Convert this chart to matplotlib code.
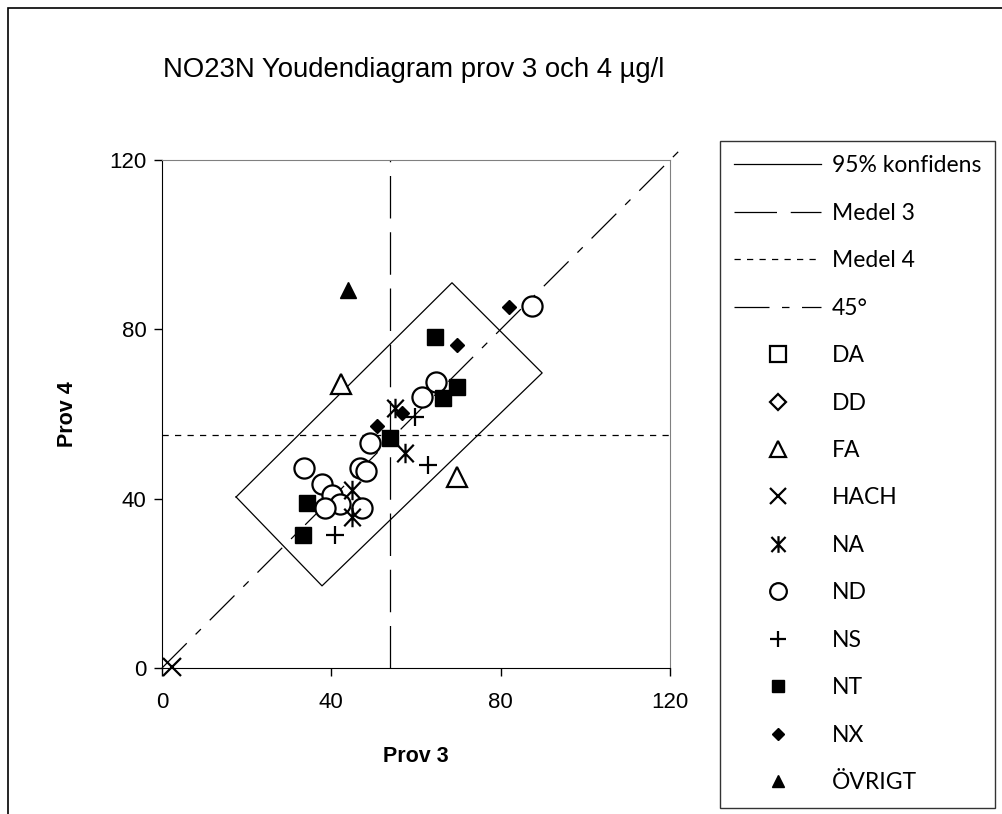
# -*- coding: utf-8 -*-
import matplotlib
matplotlib.use("Agg")
import matplotlib.pyplot as plt
from matplotlib.lines import Line2D
from matplotlib.path import Path
from matplotlib.patches import Rectangle

# medelvärden och 45-graderslinje
medel3 = 53.9
medel4 = 55.0
diag_x = [0, 123]
diag_y = [0, 123]

# 95% konfidensrektangel (hörn)
konf_x = [17.5, 68.5, 89.8, 37.8, 17.5]
konf_y = [40.4, 91.0, 69.7, 19.4, 40.4]

# resultat per metod
FA_x = [42.3, 69.7]
FA_y = [67.1, 45.1]
HACH_x = [2.4]
HACH_y = [0.2]
ND_x = [33.5, 37.8, 40.2, 42.1, 38.5, 47.2, 46.8, 48.2, 49.1, 61.4, 64.7, 87.4]
ND_y = [47.2, 43.5, 40.9, 38.7, 37.8, 37.8, 47.2, 46.5, 53.2, 64.0, 67.6, 85.5]
NA_x = [44.9, 44.9, 57.4, 55.0]
NA_y = [42.0, 35.7, 50.8, 61.5]
NS_x = [40.9, 62.8, 59.8]
NS_y = [31.4, 48.0, 59.3]
NT_x = [33.3, 34.3, 53.9, 66.4, 69.7, 64.5]
NT_y = [31.4, 39.0, 54.3, 63.8, 66.4, 78.2]
NX_x = [50.8, 56.7, 69.7, 82.0]
NX_y = [57.2, 60.2, 76.3, 85.3]
OVR_x = [43.9]
OVR_y = [89.3]

ticks = [0, 40, 80, 120]

asterisk = Path([(0, -1), (0, 1), (-0.85, -0.9), (0.85, 0.9), (-0.85, 0.9), (0.85, -0.9)],
                [Path.MOVETO, Path.LINETO] * 3)

plt.rcParams['font.family'] = ['Liberation Sans', 'DejaVu Sans']

fig = plt.figure(figsize=(10.03, 8.14), dpi=100)
ax = fig.add_axes([162 / 1003, 1 - 668 / 814, 508 / 1003, 508 / 814])

lw = 0.9
ax.plot(konf_x, konf_y, color='black', lw=lw)
ax.plot([medel3, medel3], [0, 120], color='black', lw=lw, dashes=(34, 11))
ax.plot([0, 120], [medel4, medel4], color='black', lw=lw, dashes=(5, 5))
ax.plot(diag_x, diag_y, color='black', lw=lw, dashes=(28, 10, 6, 10), clip_on=False)

ax.plot(FA_x, FA_y, ls='none', marker='^', ms=15, mfc='white', mec='black', mew=1.6, clip_on=False)
ax.plot(HACH_x, HACH_y, ls='none', marker='x', ms=13, mec='black', mew=1.6, clip_on=False)
ax.plot(NA_x[3:], NA_y[3:], ls='none', marker=asterisk, ms=14, mec='black', mew=1.6, clip_on=False)
ax.plot(ND_x, ND_y, ls='none', marker='o', ms=14.5, mfc='white', mec='black', mew=1.6, clip_on=False)
ax.plot(NA_x[:3], NA_y[:3], ls='none', marker=asterisk, ms=14, mec='black', mew=1.6, clip_on=False)
ax.plot(NS_x, NS_y, ls='none', marker='+', ms=13, mec='black', mew=1.6, clip_on=False)
ax.plot(NT_x, NT_y, ls='none', marker='s', ms=11.5, mfc='black', mec='black', clip_on=False)
ax.plot(NX_x, NX_y, ls='none', marker='D', ms=7.5, mfc='black', mec='black', clip_on=False)
ax.plot(OVR_x, OVR_y, ls='none', marker='^', ms=11, mfc='black', mec='black', clip_on=False)

ax.set_xlim(0, 120)
ax.set_ylim(0, 120)
ax.set_xticks(ticks)
ax.set_yticks(ticks)
ax.tick_params(labelsize=16, length=6, width=1)
ax.tick_params(axis='x', pad=11)
ax.tick_params(axis='y', pad=5)
for s in ['top', 'right']:
    ax.spines[s].set_color('#808080')
for s in ['left', 'bottom']:
    ax.spines[s].set_color('black')
ax.set_xlabel("Prov 3", fontsize=15.5, fontweight='bold', labelpad=24)
ax.set_ylabel("Prov 4", fontsize=15.5, fontweight='bold', labelpad=23)

fig.text(414 / 1003, 1 - 70 / 814, "NO23N Youdendiagram prov 3 och 4 µg/l",
         fontsize=19.8, ha='center', va='center')

# legend
handles = [
    Line2D([], [], color='black', lw=lw),
    Line2D([], [], color='black', lw=lw, dashes=(34, 11)),
    Line2D([], [], color='black', lw=lw, dashes=(5, 5)),
    Line2D([], [], color='black', lw=lw, dashes=(28, 10, 6, 10)),
    Line2D([], [], ls='none', marker='s', ms=12, mfc='white', mec='black', mew=1.6),
    Line2D([], [], ls='none', marker='D', ms=8, mfc='white', mec='black', mew=1.6),
    Line2D([], [], ls='none', marker='^', ms=12, mfc='white', mec='black', mew=1.6),
    Line2D([], [], ls='none', marker='x', ms=11, mec='black', mew=1.6),
    Line2D([], [], ls='none', marker=asterisk, ms=12, mec='black', mew=1.6),
    Line2D([], [], ls='none', marker='o', ms=12, mfc='white', mec='black', mew=1.6),
    Line2D([], [], ls='none', marker='+', ms=12, mec='black', mew=1.6),
    Line2D([], [], ls='none', marker='s', ms=9, mfc='black', mec='black'),
    Line2D([], [], ls='none', marker='D', ms=6.5, mfc='black', mec='black'),
    Line2D([], [], ls='none', marker='^', ms=9, mfc='black', mec='black'),
]
labels = ["95% konfidens", "Medel 3", "Medel 4", "45°", "DA", "DD", "FA", "HACH",
          "NA", "ND", "NS", "NT", "NX", "ÖVRIGT"]
leg = fig.legend(handles, labels, loc='upper left', bbox_to_anchor=(720 / 1003, 1 - 141 / 814),
                 prop={'family': ['Lato', 'DejaVu Sans'], 'size': 16.5}, frameon=True, fancybox=False,
                 edgecolor='black', handlelength=3.8, handletextpad=0.45, labelspacing=1.155,
                 borderpad=0.62, borderaxespad=0, numpoints=1)
leg.get_frame().set_linewidth(1)

fig.patches.append(Rectangle((8 / 1003, -0.1), 1.2, 1.1 - 8 / 814, transform=fig.transFigure,
                             fill=False, edgecolor='black', lw=1.2))

plt.savefig("out.png", dpi=100)
